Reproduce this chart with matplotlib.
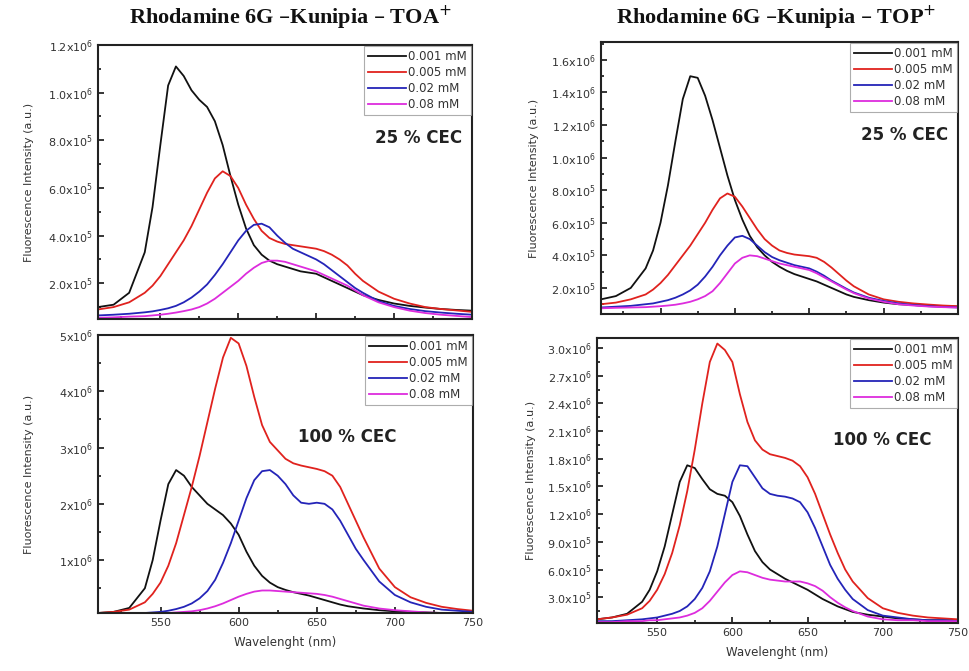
import numpy as np
import matplotlib
matplotlib.use('Agg')
import matplotlib.pyplot as plt
from matplotlib.ticker import FuncFormatter, MultipleLocator, AutoMinorLocator

# wavelength grid (nm)
wl = [510, 520, 530,
      540, 545, 550, 555, 560, 565, 570, 575, 580, 585, 590, 595, 600, 605, 610,
      615, 620, 625, 630, 635, 640, 645, 650, 655, 660, 665, 670, 675, 680,
      690, 700, 710, 720, 730, 740, 750]

labels = ['0.001 mM', '0.005 mM', '0.02 mM', '0.08 mM']
colors = ['#111111', '#e0221e', '#2424b8', '#dd2cdd']

# TOA+ 25 % CEC (x1e5)
toa25_001 = [1.0, 1.1, 1.6,
             3.3, 5.2, 7.8, 10.3, 11.1, 10.7, 10.1, 9.7, 9.4, 8.8, 7.8, 6.5, 5.3, 4.3, 3.6,
             3.2, 2.95, 2.8, 2.7, 2.6, 2.5, 2.45, 2.4, 2.25, 2.1, 1.95, 1.8, 1.65, 1.5,
             1.3, 1.15, 1.05, 0.98, 0.92, 0.88, 0.85]
toa25_005 = [0.9, 1.0, 1.2,
             1.6, 1.9, 2.3, 2.8, 3.3, 3.8, 4.4, 5.1, 5.8, 6.4, 6.7, 6.5, 6.0, 5.3, 4.7,
             4.2, 3.9, 3.75, 3.65, 3.6, 3.55, 3.5, 3.45, 3.35, 3.2, 3.0, 2.75, 2.4, 2.1,
             1.65, 1.35, 1.15, 1.0, 0.92, 0.86, 0.8]
toa25_02 = [0.65, 0.68, 0.72,
            0.78, 0.82, 0.88, 0.95, 1.05, 1.2, 1.4, 1.65, 1.95, 2.35, 2.8, 3.3, 3.8, 4.2, 4.45,
            4.5, 4.35, 4.0, 3.7, 3.45, 3.3, 3.15, 3.0, 2.8, 2.55, 2.3, 2.05, 1.8, 1.6,
            1.25, 1.05, 0.92, 0.83, 0.77, 0.72, 0.68]
toa25_08 = [0.55, 0.57, 0.6,
            0.62, 0.65, 0.68, 0.72, 0.77, 0.83, 0.9, 1.0, 1.15, 1.35, 1.6, 1.85, 2.1, 2.4, 2.65,
            2.85, 2.95, 2.95, 2.9, 2.8, 2.7, 2.6, 2.5, 2.35, 2.2, 2.05, 1.9, 1.7, 1.5,
            1.2, 1.0, 0.85, 0.75, 0.68, 0.63, 0.58]

# TOA+ 100 % CEC (x1e6)
toa100_001 = [0.06, 0.08, 0.15,
              0.5, 1.0, 1.7, 2.35, 2.6, 2.5, 2.3, 2.15, 2.0, 1.9, 1.8, 1.65, 1.45, 1.15, 0.9,
              0.72, 0.6, 0.52, 0.47, 0.43, 0.4, 0.37, 0.33, 0.29, 0.25, 0.21, 0.18, 0.16, 0.14,
              0.11, 0.09, 0.08, 0.07, 0.06, 0.06, 0.05]
toa100_005 = [0.06, 0.08, 0.12,
              0.25, 0.4, 0.6, 0.9, 1.3, 1.8, 2.3, 2.85, 3.45, 4.05, 4.6, 4.95, 4.85, 4.45, 3.9,
              3.4, 3.1, 2.95, 2.8, 2.72, 2.68, 2.65, 2.62, 2.58, 2.5, 2.3, 2.0, 1.7, 1.4,
              0.85, 0.52, 0.34, 0.24, 0.17, 0.13, 0.1]
toa100_02 = [0.04, 0.04, 0.05,
             0.06, 0.07, 0.08, 0.1, 0.13, 0.17, 0.23, 0.32, 0.45, 0.65, 0.95, 1.3, 1.7, 2.1, 2.42,
             2.58, 2.6, 2.5, 2.35, 2.15, 2.02, 2.0, 2.02, 2.0, 1.9, 1.7, 1.45, 1.2, 1.0,
             0.62, 0.38, 0.25, 0.17, 0.12, 0.1, 0.08]
toa100_08 = [0.04, 0.04, 0.04,
             0.05, 0.05, 0.06, 0.06, 0.07, 0.08, 0.09, 0.11, 0.14, 0.18, 0.23, 0.29, 0.35, 0.4, 0.44,
             0.46, 0.46, 0.45, 0.44, 0.43, 0.42, 0.41, 0.4, 0.38, 0.35, 0.31, 0.27, 0.23, 0.19,
             0.14, 0.11, 0.09, 0.07, 0.06, 0.05, 0.05]

# TOP+ 25 % CEC (x1e5)
top25_001 = [1.3, 1.5, 2.0,
             3.2, 4.3, 6.0, 8.3, 11.0, 13.6, 15.0, 14.9, 13.8, 12.3, 10.6, 8.9, 7.4, 6.2, 5.2,
             4.5, 4.0, 3.6, 3.3, 3.05, 2.85, 2.7, 2.55, 2.4, 2.2, 2.0, 1.8, 1.6, 1.45,
             1.25, 1.1, 1.0, 0.95, 0.9, 0.88, 0.85]
top25_005 = [1.0, 1.1, 1.3,
             1.6, 1.9, 2.3, 2.8, 3.4, 4.0, 4.6, 5.3, 6.0, 6.8, 7.5, 7.8, 7.6, 7.0, 6.3,
             5.6, 5.0, 4.6, 4.3, 4.15, 4.05, 4.0, 3.95, 3.85, 3.6, 3.25, 2.85, 2.45, 2.1,
             1.6, 1.3, 1.15, 1.05, 0.98, 0.92, 0.88]
top25_02 = [0.8, 0.85, 0.9,
            1.0, 1.05, 1.15, 1.25, 1.4, 1.6, 1.85, 2.2, 2.7, 3.3, 4.0, 4.6, 5.1, 5.2, 5.0,
            4.6, 4.2, 3.9, 3.7, 3.55, 3.4, 3.3, 3.2, 3.0, 2.75, 2.45, 2.2, 1.95, 1.72,
            1.4, 1.2, 1.05, 0.95, 0.88, 0.83, 0.8]
top25_08 = [0.75, 0.78, 0.8,
            0.82, 0.85, 0.88, 0.92, 0.97, 1.05, 1.15, 1.3, 1.5, 1.8, 2.3, 2.9, 3.5, 3.85, 4.0,
            3.95, 3.8, 3.65, 3.5, 3.4, 3.3, 3.2, 3.1, 2.9, 2.65, 2.4, 2.15, 1.9, 1.68,
            1.35, 1.15, 1.0, 0.92, 0.86, 0.82, 0.8]

# TOP+ 100 % CEC (x1e6)
top100_001 = [0.06, 0.08, 0.12,
              0.25, 0.38, 0.58, 0.85, 1.2, 1.55, 1.73, 1.7, 1.58, 1.47, 1.42, 1.4, 1.33, 1.18, 0.98,
              0.8, 0.68, 0.6, 0.55, 0.5, 0.46, 0.42, 0.38, 0.33, 0.28, 0.24, 0.2, 0.17, 0.14,
              0.11, 0.09, 0.07, 0.06, 0.05, 0.05, 0.05]
top100_005 = [0.06, 0.08, 0.11,
              0.18, 0.26, 0.38, 0.55, 0.78, 1.08, 1.45, 1.9, 2.4, 2.85, 3.05, 2.98, 2.85, 2.5, 2.2,
              2.0, 1.9, 1.85, 1.83, 1.81, 1.78, 1.72, 1.6, 1.42, 1.2, 0.98, 0.78, 0.6, 0.47,
              0.29, 0.18, 0.13, 0.1, 0.08, 0.07, 0.06]
top100_02 = [0.04, 0.04, 0.05,
             0.06, 0.07, 0.08, 0.1, 0.12, 0.15, 0.2, 0.28, 0.4, 0.58, 0.85, 1.2, 1.55, 1.73, 1.72,
             1.6, 1.48, 1.42, 1.4, 1.39, 1.37, 1.33, 1.22, 1.05, 0.85, 0.65, 0.5, 0.38, 0.28,
             0.16, 0.1, 0.08, 0.06, 0.05, 0.05, 0.04]
top100_08 = [0.03, 0.03, 0.04,
             0.04, 0.05, 0.05, 0.06, 0.07, 0.08, 0.1, 0.13, 0.18, 0.26, 0.36, 0.46, 0.54, 0.58, 0.57,
             0.54, 0.51, 0.49, 0.48, 0.47, 0.47, 0.47, 0.45, 0.42, 0.37, 0.3, 0.24, 0.19, 0.15,
             0.09, 0.06, 0.05, 0.05, 0.04, 0.04, 0.04]


def sci_label(v, decimals):
    exp = int(np.floor(np.log10(v) + 1e-9))
    mant = v / 10 ** exp
    return f'{mant:.{decimals}f}x10$^{{{exp}}}$'


def draw_panel(rect, series, scale, ylim, yticks, decimals, cec_text, cec_xy, xlabels, ylabel_x):
    ax = fig.add_axes(rect)
    for vals, col, lab in zip(series, colors, labels):
        ax.plot(wl, np.array(vals) * scale, color=col, linewidth=1.3, label=lab)

    ax.set_xlim(510, 750)
    ax.set_ylim(*ylim)
    ax.xaxis.set_major_locator(MultipleLocator(50))
    ax.xaxis.set_minor_locator(MultipleLocator(25))
    ax.set_yticks(yticks)
    ax.yaxis.set_minor_locator(AutoMinorLocator(2))
    ax.yaxis.set_major_formatter(FuncFormatter(lambda v, p: sci_label(v, decimals)))
    ax.tick_params(which='both', direction='in', top=False, right=False, labelsize=8,
                   labelcolor='#333333', width=1.1)
    ax.tick_params(which='major', length=4)
    ax.tick_params(which='minor', length=2)
    for sp in ax.spines.values():
        sp.set_linewidth(1.5)
        sp.set_color('#222222')
    if xlabels:
        ax.set_xlabel('Wavelenght (nm)', fontsize=8.5, color='#333333', labelpad=6)
    else:
        ax.tick_params(axis='x', labelbottom=False)
    ax.set_ylabel('Fluorescence Intensity (a.u.)', fontsize=8, color='#333333')
    ax.yaxis.set_label_coords(ylabel_x, 0.5)

    leg = ax.legend(loc='upper right', fontsize=8.5, frameon=True, fancybox=False,
                    borderaxespad=0.1, handlelength=3.2, handletextpad=0.2,
                    labelspacing=0.25, borderpad=0.35)
    leg.get_frame().set_edgecolor('#999999')
    leg.get_frame().set_linewidth(0.8)
    for t in leg.get_texts():
        t.set_color('#333333')
    ax.text(cec_xy[0], cec_xy[1], cec_text, transform=ax.transAxes, fontsize=12,
            fontweight='bold', color='#222222', ha='center', va='center')
    return ax


fig = plt.figure(figsize=(9.69, 6.71), dpi=100)
W, H = 969, 671


def rect(left, top, right, bottom):
    return [left / W, 1 - bottom / H, (right - left) / W, (bottom - top) / H]


draw_panel(rect(98, 45, 472, 319), [toa25_001, toa25_005, toa25_02, toa25_08], 1e5,
           (5e4, 1.2e6), [2e5, 4e5, 6e5, 8e5, 1e6, 1.2e6], 1,
           '25 % CEC', (0.858, 0.66), False, -0.17)
draw_panel(rect(98, 335, 473, 613), [toa100_001, toa100_005, toa100_02, toa100_08], 1e6,
           (6e4, 5e6), [1e6, 2e6, 3e6, 4e6, 5e6], 0,
           '100 % CEC', (0.664, 0.633), True, -0.17)
draw_panel(rect(601, 42, 958, 314), [top25_001, top25_005, top25_02, top25_08], 1e5,
           (4e4, 1.71e6), [2e5, 4e5, 6e5, 8e5, 1e6, 1.2e6, 1.4e6, 1.6e6], 1,
           '25 % CEC', (0.849, 0.658), False, -0.175)
draw_panel(rect(597, 338, 958, 623), [top100_001, top100_005, top100_02, top100_08], 1e6,
           (2e4, 3.11e6), [3e5, 6e5, 9e5, 1.2e6, 1.5e6, 1.8e6, 2.1e6, 2.4e6, 2.7e6, 3.0e6], 1,
           '100 % CEC', (0.79, 0.642), True, -0.17)

fig.text(290 / W, 1 - 18 / H, 'Rhodamine 6G –Kunipia – TOA$^{+}$', fontsize=16,
         fontweight='bold', family='Liberation Serif', ha='center', va='center', color='#111111')
fig.text(776 / W, 1 - 18 / H, 'Rhodamine 6G –Kunipia – TOP$^{+}$', fontsize=16,
         fontweight='bold', family='Liberation Serif', ha='center', va='center', color='#111111')

fig.savefig('out.png', dpi=100)
